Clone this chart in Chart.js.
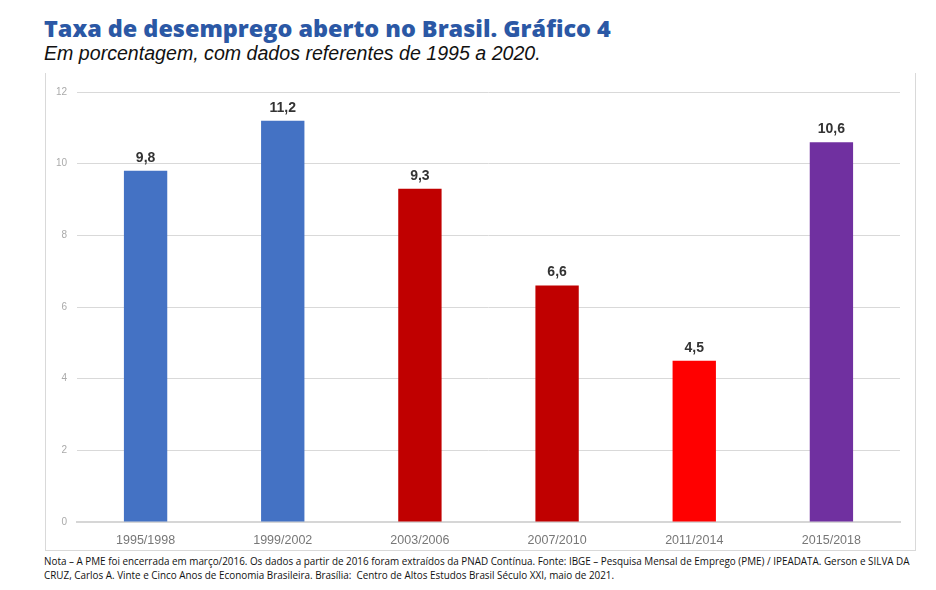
<!DOCTYPE html>
<html lang="pt-BR">
<head>
  <meta charset="UTF-8">
  <title>Taxa de desemprego aberto no Brasil</title>
  <script src="https://cdn.jsdelivr.net/npm/chart.js"></script>
  <style>
    body {
      margin: 0;
      width: 936px;
      height: 590px;
      background: #fff;
      position: relative;
      overflow: hidden;
    }
    h1 {
      position: absolute;
      left: 44px;
      top: 12px;
      margin: 0;
      font-family: "Open Sans", sans-serif;
      font-weight: 800;
      font-size: 23.4px;
      color: #2b58a5;
      white-space: nowrap;
    }
    .sub {
      position: absolute;
      left: 44px;
      top: 42px;
      font-family: "Liberation Sans", Arial, sans-serif;
      font-style: italic;
      font-size: 19.6px;
      color: #111;
      white-space: nowrap;
    }
    #caixa {
      position: absolute;
      left: 45px;
      top: 73px;
      width: 869px;
      height: 477px;
      border: 1px solid #d9d9d9;
      border-top: none;
    }
    .nota {
      position: absolute;
      left: 44px;
      top: 554px;
      width: 872px;
      font-family: "Open Sans", sans-serif;
      font-size: 9.9px;
      line-height: 14px;
      color: #111;
    }
  </style>
</head>
<body>
  <h1>Taxa de desemprego aberto no Brasil. Gráfico 4</h1>
  <div class="sub">Em porcentagem, com dados referentes de 1995 a 2020.</div>
  <div id="caixa"><canvas id="grafico" width="869" height="477"></canvas></div>
  <div class="nota">Nota – A PME foi encerrada em março/2016. Os dados a partir de 2016 foram extraídos da PNAD Contínua. Fonte: IBGE – Pesquisa Mensal de Emprego (PME) / IPEADATA. Gerson e SILVA DA CRUZ, Carlos A. Vinte e Cinco Anos de Economia Brasileira. Brasília:&nbsp; Centro de Altos Estudos Brasil Século XXI, maio de 2021.</div>

  <script>
    const periodos = ['1995/1998', '1999/2002', '2003/2006', '2007/2010', '2011/2014', '2015/2018'];
    const taxas = [9.8, 11.2, 9.3, 6.6, 4.5, 10.6];
    const cores = ['#4472c4', '#4472c4', '#c00000', '#c00000', '#ff0000', '#7030a0'];
    const marcasY = [0, 2, 4, 6, 8, 10, 12];

    // rotulos em cima das barras
    const rotulos = {
      id: 'rotulos',
      afterDatasetsDraw(chart) {
        const ctx = chart.ctx;
        const meta = chart.getDatasetMeta(0);
        ctx.save();
        ctx.font = 'bold 14px "Liberation Sans", Arial, sans-serif';
        ctx.fillStyle = '#333';
        ctx.textAlign = 'center';
        ctx.textBaseline = 'bottom';
        meta.data.forEach((bar, i) => {
          ctx.fillText(taxas[i].toFixed(1).replace('.', ','), bar.x, bar.y - 6);
        });
        ctx.restore();
      }
    };

    new Chart(document.getElementById('grafico'), {
      type: 'bar',
      data: {
        labels: periodos,
        datasets: [{
          data: taxas,
          backgroundColor: cores,
          categoryPercentage: 1,
          barPercentage: 0.316
        }]
      },
      options: {
        responsive: false,
        animation: false,
        layout: { padding: { top: 19, right: 15, left: 0, bottom: 0 } },
        plugins: { legend: { display: false }, tooltip: { enabled: false } },
        scales: {
          y: {
            min: 0,
            max: 12,
            afterFit: s => { s.width = 31; },
            afterBuildTicks: s => { s.ticks = marcasY.map(v => ({ value: v })); },
            border: { display: false },
            grid: { color: '#d9d9d9', drawTicks: false },
            ticks: {
              padding: 10,
              color: '#aaa',
              font: { family: '"Liberation Sans", Arial, sans-serif', size: 10 }
            }
          },
          x: {
            afterFit: s => { s.height = 28; },
            border: { color: '#d6d6d6', width: 2 },
            grid: { display: false },
            ticks: {
              padding: 3,
              color: '#777',
              font: { family: '"Liberation Sans", Arial, sans-serif', size: 12.5 }
            }
          }
        }
      },
      plugins: [rotulos]
    });
  </script>
</body>
</html>
